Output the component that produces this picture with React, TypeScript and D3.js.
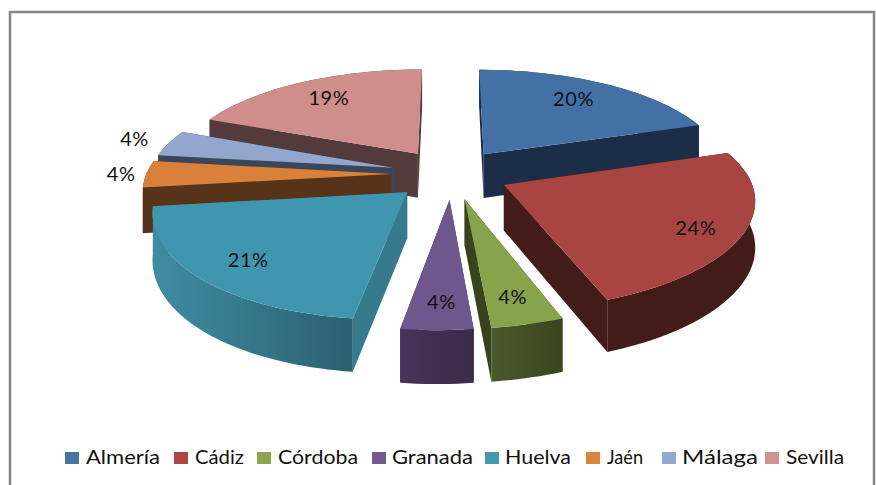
import React from "react";
import * as d3 from "d3";

const categories = ["Almería", "Cádiz", "Córdoba", "Granada", "Huelva", "Jaén", "Málaga", "Sevilla"];
const shares = [20, 24, 4, 4, 21, 4, 4, 19];
const topColors = ["#4371a6", "#a84442", "#87a34c", "#6f568d", "#3f96ae", "#d9813b", "#91a7cd", "#cf8d8c"];
const legendColors = ["#4572a7", "#aa4643", "#89a54e", "#71588f", "#4198af", "#db843d", "#93a9cf", "#d19392"];
const cutColors = ["#1b2d47", "#431b18", "#36431c", "#3b2b4a", "#367a8d", "#573419", "#3a465a", "#533a3b"];
const rimFrom = ["#1b2d47", "#431b18", "#4a5a2c", "#46345a", "#3f8da3", "#573419", "#3a465a", "#533a3b"];
const rimTo = ["#1b2d47", "#431b18", "#394520", "#3b2a4a", "#2a606f", "#573419", "#3a465a", "#533a3b"];
const legendTextX = [86, 195, 278, 392, 505, 607, 682, 786];
const legendTextWidth = [74, 49, 80, 81, 66, 36, 76, 58];
const legendSwatchX = [65, 174, 257, 372, 485, 586, 662, 765];
const paintOrder = ["Sevilla", "Almería", "Málaga", "Jaén", "Huelva", "Cádiz", "Granada", "Córdoba"];
const labelNudge: [number, number][] = [[90, -56], [192, 42], [48, 97], [-8, 101], [-159, 67], [-270, -1], [-259, -30], [-89, -57]];

const W = 876, H = 485;
const cx = 450, cy = 174, Rx = 245, A = 105, B = 0.134, explode = 0.24, depth = 45;

const scale = (v: number) => 1 / (1 - B * v);
const project = (u: number, v: number, down = 0): [number, number] => {
  const s = scale(v);
  const back = Math.min(v, 0);
  const lean = v > 0 ? -8.6 * v * v : 0;
  return [cx + u * Rx * s * (1 + 0.015 * back) + lean, cy + A * v * s * (1 + 0.03 * back) + down * s];
};

const top = d3.scaleOrdinal<string, string>(categories, topColors);
const legendFill = d3.scaleOrdinal<string, string>(categories, legendColors);
const cut = d3.scaleOrdinal<string, string>(categories, cutColors);
const rimA = d3.scaleOrdinal<string, string>(categories, rimFrom);
const rimB = d3.scaleOrdinal<string, string>(categories, rimTo);

const arcs = d3.pie<number>().sort(null)(shares);
const line = d3.line();
const closed = (p: [number, number][]) => (line(p) ?? "") + "Z";

const slices = arcs.map((a, i) => {
  const mid = (a.startAngle + a.endAngle) / 2;
  const ou = Math.sin(mid) * explode;
  const ov = -Math.cos(mid) * explode;
  const n = Math.max(2, Math.ceil((a.endAngle - a.startAngle) / 0.03));
  const angles = d3.range(n + 1).map((k) => a.startAngle + ((a.endAngle - a.startAngle) * k) / n);
  const rim = angles.map((t) => ({ u: ou + Math.sin(t), v: ov - Math.cos(t) }));
  const rimTop = rim.map((p) => project(p.u, p.v));
  const rimBottom = rim.map((p) => project(p.u, p.v, depth));
  const apex = project(ou, ov);
  const apexLow = project(ou, ov, depth);
  return { name: categories[i], share: shares[i], i, rimTop, rimBottom, apex, apexLow };
});

export default function App() {
  const ordered = paintOrder.map((n) => slices[categories.indexOf(n)]);
  return (
    <svg width={W} height={H} style={{ position: "absolute", left: 0, top: 0, background: "#fff" }} fontFamily="Lato, 'Open Sans', sans-serif">
      <defs>
        {slices.map((s) => {
          const xs = d3.extent(s.rimTop, (p) => p[0]) as [number, number];
          return (
            <linearGradient key={s.name} id={`rim${s.i}`} gradientUnits="userSpaceOnUse" x1={xs[0]} x2={xs[1]} y1={0} y2={0}>
              <stop offset="0" stopColor={rimA(s.name)} />
              <stop offset="1" stopColor={rimB(s.name)} />
            </linearGradient>
          );
        })}
      </defs>
      <path d={`M10,${H}V12H874V${H}`} fill="none" stroke="#868686" strokeWidth={2.5} />
      {ordered.map((s) => {
        const first = s.rimTop[0], last = s.rimTop[s.rimTop.length - 1];
        const firstLow = s.rimBottom[0], lastLow = s.rimBottom[s.rimBottom.length - 1];
        return (
          <g key={s.name}>
            <path d={closed([s.apex, first, firstLow, s.apexLow])} fill={cut(s.name)} />
            <path d={closed([s.apex, last, lastLow, s.apexLow])} fill={cut(s.name)} />
            <path d={closed([...s.rimTop, ...[...s.rimBottom].reverse()])} fill={`url(#rim${s.i})`} />
            <path d={closed([s.apex, ...s.rimTop])} fill={top(s.name)} />
          </g>
        );
      })}
      {slices.map((s) => (
        <text
          key={s.name}
          x={s.apex[0] + labelNudge[s.i][0]}
          y={s.apex[1] + labelNudge[s.i][1]}
          textAnchor="middle"
          dominantBaseline="central"
          fontSize={20}
          letterSpacing={0.6}
          fill="#111"
        >
          {`${s.share}%`}
        </text>
      ))}
      {categories.map((c, i) => (
        <g key={c}>
          <rect x={legendSwatchX[i]} y={452} width={14} height={12} fill={legendFill(c)} />
          <text x={legendTextX[i]} y={464} fontSize={19} textLength={legendTextWidth[i]} lengthAdjust="spacingAndGlyphs" fill="#111">{c}</text>
        </g>
      ))}
    </svg>
  );
}
